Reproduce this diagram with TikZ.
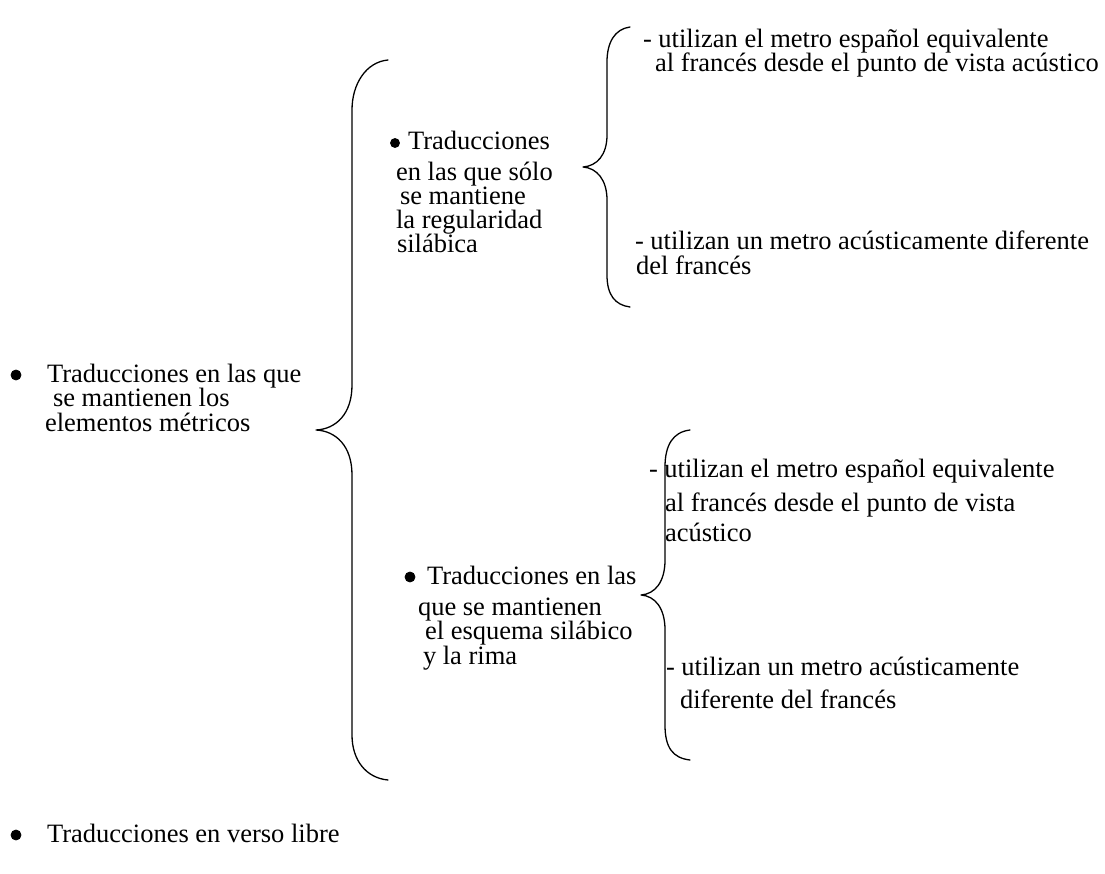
\documentclass[tikz,border=0pt]{standalone}
\usepackage{fontspec}
\setmainfont{Liberation Serif}
\begin{document}
\begin{tikzpicture}[x=1pt,y=-1pt,
  txt/.style={anchor=base west,inner sep=0pt,outer sep=0pt,font=\fontsize{26.5}{30}\selectfont},
  dot/.style={circle,draw=black,fill=black,line width=0.8pt,inner sep=0pt,minimum size=10pt},
  brace/.style={line width=1.3pt,line cap=round,line join=round}]
\useasboundingbox (0,0) rectangle (1105,874);
% left item
\node[dot] (b1) at (16,375) {};
\node[txt] (l1) at (47,382) {Traducciones en las que};
\node[txt] (l2) at (53,406) {se mantienen los};
\node[txt] (l3) at (45,431) {elementos métricos};
% big brace
\coordinate (t0) at (316,430);
\draw[brace] (388,60) .. controls (366,62) and (352,84) .. (352,110) -- (352,385)
  .. controls (352,414) and (336,429) .. (t0)
  .. controls (336,431) and (352,446) .. (352,475) -- (352,735)
  .. controls (352,760) and (366,778) .. (388,780);
% upper middle
\node[dot,minimum size=9pt] (b2) at (395,143) {};
\node[txt] (m1) at (408,150) {Traducciones};
\node[txt] (m2) at (396,181) {en las que sólo};
\node[txt] (m3) at (400,205) {se mantiene};
\node[txt] (m4) at (396,229) {la regularidad};
\node[txt] (m5) at (397,253) {silábica};
% upper right brace
\coordinate (t1) at (583,167);
\draw[brace] (630,27) .. controls (615,29) and (607,42) .. (607,62) -- (607,135)
  .. controls (607,155) and (597,166) .. (t1)
  .. controls (597,168) and (607,180) .. (607,200) -- (607,275)
  .. controls (607,295) and (615,305) .. (630,307);
\node[txt] (r1) at (643,48) {- utilizan el metro español equivalente};
\node[txt] (r2) at (655,72) {al francés desde el punto de vista acústico};
\node[txt] (r3) at (635,250) {- utilizan un metro acústicamente diferente};
\node[txt] (r4) at (636,275) {del francés};
% lower middle
\node[dot] (b3) at (410,577) {};
\node[txt] (n1) at (427,584) {Traducciones en las};
\node[txt] (n2) at (418,615) {que se mantienen};
\node[txt] (n3) at (425,639) {el esquema silábico};
\node[txt] (n4) at (423,664) {y la rima};
% lower right brace
\coordinate (t2) at (641,595);
\draw[brace] (690,430) .. controls (673,432) and (665,445) .. (665,467) -- (665,560)
  .. controls (665,582) and (655,594) .. (t2)
  .. controls (655,596) and (665,608) .. (665,630) -- (665,725)
  .. controls (665,748) and (673,758) .. (690,760);
\node[txt] (s1) at (649,477) {- utilizan el metro español equivalente};
\node[txt] (s2) at (665,511) {al francés desde el punto de vista};
\node[txt] (s3) at (665,541) {acústico};
\node[txt] (s4) at (666,675) {- utilizan un metro acústicamente};
\node[txt] (s5) at (680,708) {diferente del francés};
% bottom item
\node[dot] (b4) at (16,835) {};
\node[txt] (f1) at (47,842) {Traducciones en verso libre};
\end{tikzpicture}
\end{document}
